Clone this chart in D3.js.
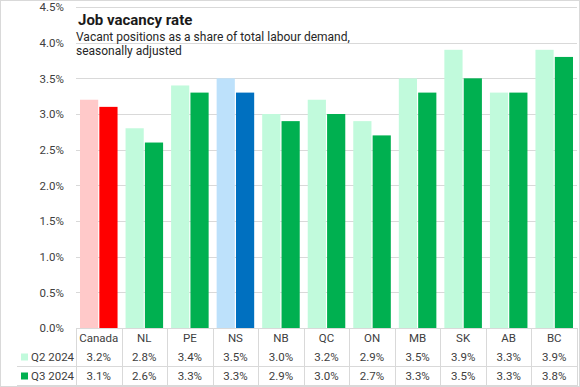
<!DOCTYPE html>
<html><head><meta charset="utf-8">
<script src="https://cdn.jsdelivr.net/npm/d3@7"></script>
<style>
body{margin:0;background:#fff;}
svg{display:block;font-family:Roboto,"Liberation Sans",sans-serif;}
</style></head>
<body>
<svg id="c" width="580" height="387"></svg>
<script>
const categories = ["Canada","NL","PE","NS","NB","QC","ON","MB","SK","AB","BC"];
const seriesNames = ["Q2 2024","Q3 2024"];
const q2 = [3.2,2.8,3.4,3.5,3.0,3.2,2.9,3.5,3.9,3.3,3.9];
const q3 = [3.1,2.6,3.3,3.3,2.9,3.0,2.7,3.3,3.5,3.3,3.8];
const yTicks = [0,0.5,1,1.5,2,2.5,3,3.5,4,4.5];

const colorsQ2 = {Canada:"#ffc9c9", NS:"#bde1fb"};
const colorsQ3 = {Canada:"#ff0000", NS:"#0070c0"};
const baseQ2 = "#c1fadc", baseQ3 = "#00b050";

(function(){
const svg = d3.select("#c");
const W=580,H=387;
const pL=76,pR=577,pT=7,pB=328;
const grid="#d9d9d9", txt="#404040";

svg.append("rect").attr("x",0.5).attr("y",0.5).attr("width",W-1).attr("height",H-1)
  .attr("fill","#fff").attr("stroke","#d9d9d9");

const x = d3.scaleBand().domain(categories).range([pL,pR]);
const y = d3.scaleLinear().domain([0,4.5]).range([pB,pT]);
const inner = d3.scaleBand().domain(seriesNames).range([4, x.bandwidth()-4]).paddingInner(0.06);

svg.append("g").selectAll("line").data(yTicks.filter(d=>d>0)).join("line")
  .attr("x1",pL).attr("x2",pR)
  .attr("y1",d=>Math.round(y(d))+0.5).attr("y2",d=>Math.round(y(d))+0.5)
  .attr("stroke",grid).attr("stroke-width",1);

const yAxis = d3.axisLeft(y).tickValues(yTicks).tickFormat(d=>d.toFixed(1)+"%").tickSize(0).tickPadding(12);
const ya = svg.append("g").attr("transform",`translate(${pL},0)`).call(yAxis);
ya.select(".domain").remove();
ya.selectAll("text").attr("fill",txt).style("font-size","11.5px").style("font-family","Roboto,sans-serif");

const rows = categories.map((c,i)=>({c, v:[q2[i],q3[i]]}));
const g = svg.append("g");
g.selectAll("g").data(rows).join("g")
  .attr("transform",d=>`translate(${x(d.c)},0)`)
  .selectAll("rect").data(d=>d.v.map((v,j)=>({c:d.c,s:seriesNames[j],v,j}))).join("rect")
  .attr("x",d=>inner(d.s)).attr("width",inner.bandwidth())
  .attr("y",d=>y(d.v)).attr("height",d=>y(0)-y(d.v))
  .attr("fill",d=>d.j===0 ? (colorsQ2[d.c]||baseQ2) : (colorsQ3[d.c]||baseQ3));

const rowY = [338, 357, 376];
const t = svg.append("g");
t.append("line").attr("x1",pL).attr("x2",pR).attr("y1",pB+0.5).attr("y2",pB+0.5).attr("stroke",grid);
[366.5, 385.5].forEach(ly=>{
  t.append("line").attr("x1",17).attr("x2",pR).attr("y1",ly).attr("y2",ly).attr("stroke",grid);
});
const vx = categories.map(c=>x(c)).concat([pR]);
t.selectAll("line.v").data(vx).join("line").attr("class","v")
  .attr("x1",d=>Math.round(d)+0.5).attr("x2",d=>Math.round(d)+0.5)
  .attr("y1",pB).attr("y2",386).attr("stroke",grid);

t.selectAll("text.cat").data(categories).join("text").attr("class","cat")
  .attr("x",d=>x(d)+x.bandwidth()/2).attr("y",rowY[0]).attr("dy","0.35em")
  .attr("text-anchor","middle").attr("fill",txt).style("font-size","11.5px").text(d=>d);

[q2,q3].forEach((arr,j)=>{
  t.selectAll("text.v"+j).data(arr).join("text").attr("class","v"+j)
    .attr("x",(d,i)=>x(categories[i])+x.bandwidth()/2).attr("y",rowY[j+1]).attr("dy","0.35em")
    .attr("text-anchor","middle").attr("fill",txt).style("font-size","11.5px").text(d=>d.toFixed(1)+"%");
  t.append("rect").attr("x",21).attr("y",rowY[j+1]-3.5).attr("width",7).attr("height",7)
    .attr("fill", j===0?baseQ2:baseQ3);
  t.append("text").attr("x",31).attr("y",rowY[j+1]).attr("dy","0.35em")
    .attr("fill",txt).style("font-size","11.5px").text(seriesNames[j]);
});

svg.append("text").attr("x",78).attr("y",25).attr("fill","#1a1a1a")
  .style("font-size","15px").style("font-weight","bold").text("Job vacancy rate");
svg.append("text").attr("x",76).attr("y",41).attr("fill","#262626")
  .style("font-size","12px").text("Vacant positions as a share of total labour demand,");
svg.append("text").attr("x",76).attr("y",55).attr("fill","#262626")
  .style("font-size","12px").text("seasonally adjusted");
})();
</script>
</body></html>
